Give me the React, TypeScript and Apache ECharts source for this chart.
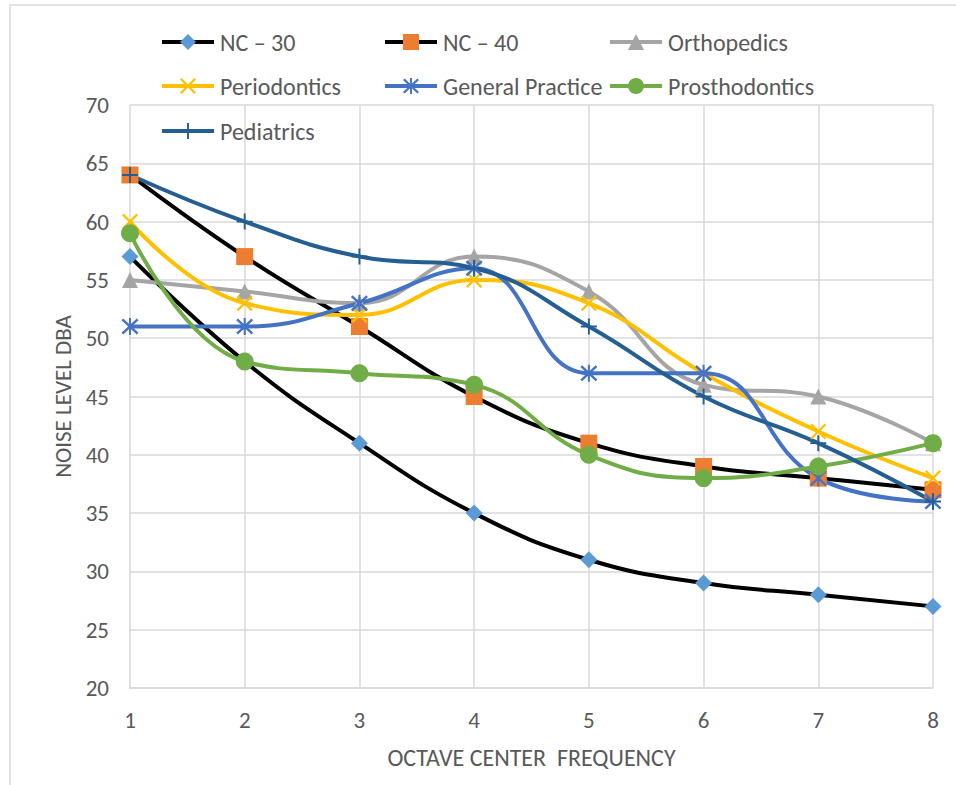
import React, { useEffect, useRef } from "react";
import * as echarts from "echarts";

const xValues = [1, 2, 3, 4, 5, 6, 7, 8];
const nc30 = [57, 48, 41, 35, 31, 29, 28, 27];
const nc40 = [64, 57, 51, 45, 41, 39, 38, 37];
const orthopedics = [55, 54, 53, 57, 54, 46, 45, 41];
const periodontics = [60, 53, 52, 55, 53, 47, 42, 38];
const generalPractice = [51, 51, 53, 56, 47, 47, 38, 36];
const prosthodontics = [59, 48, 47, 46, 40, 38, 39, 41];
const pediatrics = [64, 60, 57, 56, 51, 45, 41, 36];

const FONT = "Carlito, Lato, 'Liberation Sans', sans-serif";
const TEXT = "#595959";
const GRID = "#d9d9d9";

const X_PATH = "path://M0,1 L1,0 L10,9 L9,10 Z M9,0 L10,1 L1,10 L0,9 Z";
const STAR_PATH =
  "path://M0,1.3 L1,0.3 L10,8.7 L9,9.7 Z M9,0.3 L10,1.3 L1,9.7 L0,8.7 Z M4.4,0 L5.6,0 L5.6,10 L4.4,10 Z";
const PLUS_PATH = "path://M4.4,0 L5.6,0 L5.6,10 L4.4,10 Z M0,4.4 L10,4.4 L10,5.6 L0,5.6 Z";

type S = {
  name: string;
  values: number[];
  line: string;
  marker: string;
  symbol: string;
  size: number;
};

const seriesDefs: S[] = [
  { name: "NC – 30", values: nc30, line: "#000000", marker: "#5B9BD5", symbol: "diamond", size: 17 },
  { name: "NC – 40", values: nc40, line: "#000000", marker: "#ED7D31", symbol: "rect", size: 17 },
  { name: "Orthopedics", values: orthopedics, line: "#A5A5A5", marker: "#A5A5A5", symbol: "triangle", size: 16 },
  { name: "Periodontics", values: periodontics, line: "#FFC000", marker: "#FFC000", symbol: X_PATH, size: 16 },
  { name: "General Practice", values: generalPractice, line: "#4472C4", marker: "#4472C4", symbol: STAR_PATH, size: 17 },
  { name: "Prosthodontics", values: prosthodontics, line: "#70AD47", marker: "#70AD47", symbol: "circle", size: 18 },
  { name: "Pediatrics", values: pediatrics, line: "#255E91", marker: "#255E91", symbol: PLUS_PATH, size: 16 },
];

const legendPos = [
  [160, 43],
  [383, 43],
  [608, 43],
  [160, 87],
  [383, 87],
  [608, 87],
  [160, 132],
];

export default function App() {
  const ref = useRef<HTMLDivElement>(null);
  useEffect(() => {
    const chart = echarts.init(ref.current!, null, { renderer: "svg" });
    const option: any = {
      animation: false,
      backgroundColor: "#ffffff",
      textStyle: { fontFamily: FONT },
      grid: { left: 130, right: 23, top: 105, bottom: 97, containLabel: false },
      legend: seriesDefs.map((s, i) => ({
        data: [s.name],
        left: legendPos[i][0],
        top: legendPos[i][1] - 13,
        padding: 0,
        itemWidth: 52,
        itemHeight: 20,
        itemGap: 0,
        lineStyle: { width: 4 },
        textStyle: { color: TEXT, fontSize: 24, fontFamily: FONT, padding: [0, 0, 0, 1] },
      })),
      xAxis: {
        type: "value",
        min: 1,
        max: 8,
        interval: 1,
        name: "OCTAVE CENTER  FREQUENCY",
        nameLocation: "middle",
        nameGap: 57,
        nameTextStyle: { color: TEXT, fontSize: 24, fontFamily: FONT },
        axisLine: { show: true, lineStyle: { color: GRID, width: 1.5 } },
        axisTick: { show: false },
        axisLabel: { color: TEXT, fontSize: 23, margin: 20, fontFamily: FONT },
        splitLine: { show: true, lineStyle: { color: GRID, width: 1.5 } },
      },
      yAxis: {
        type: "value",
        min: 20,
        max: 70,
        interval: 5,
        name: "NOISE LEVEL DBA",
        nameLocation: "middle",
        nameGap: 56,
        nameTextStyle: { color: TEXT, fontSize: 23, fontFamily: FONT },
        axisLine: { show: false },
        axisTick: { show: false },
        axisLabel: { color: TEXT, fontSize: 23, margin: 21, fontFamily: FONT },
        splitLine: { show: true, lineStyle: { color: GRID, width: 1.5 } },
      },
      graphic: [
        {
          type: "rect",
          shape: { x: 10, y: 5, width: 980, height: 820 },
          style: { fill: "none", stroke: GRID, lineWidth: 1.5 },
          silent: true,
        },
      ],
      series: seriesDefs.map((s) => ({
        name: s.name,
        type: "line",
        smooth: 0.45,
        data: xValues.map((x, i) => [x, s.values[i]]),
        symbol: s.symbol,
        symbolSize: s.size,
        lineStyle: { color: s.line, width: 4 },
        itemStyle: { color: s.marker, borderWidth: 0 },
        emphasis: { disabled: true },
      })),
    };
    chart.setOption(option);
    return () => chart.dispose();
  }, []);
  return (
    <div
      ref={ref}
      style={{ position: "fixed", left: 0, top: 0, width: 956, height: 785, background: "#fff" }}
    />
  );
}
